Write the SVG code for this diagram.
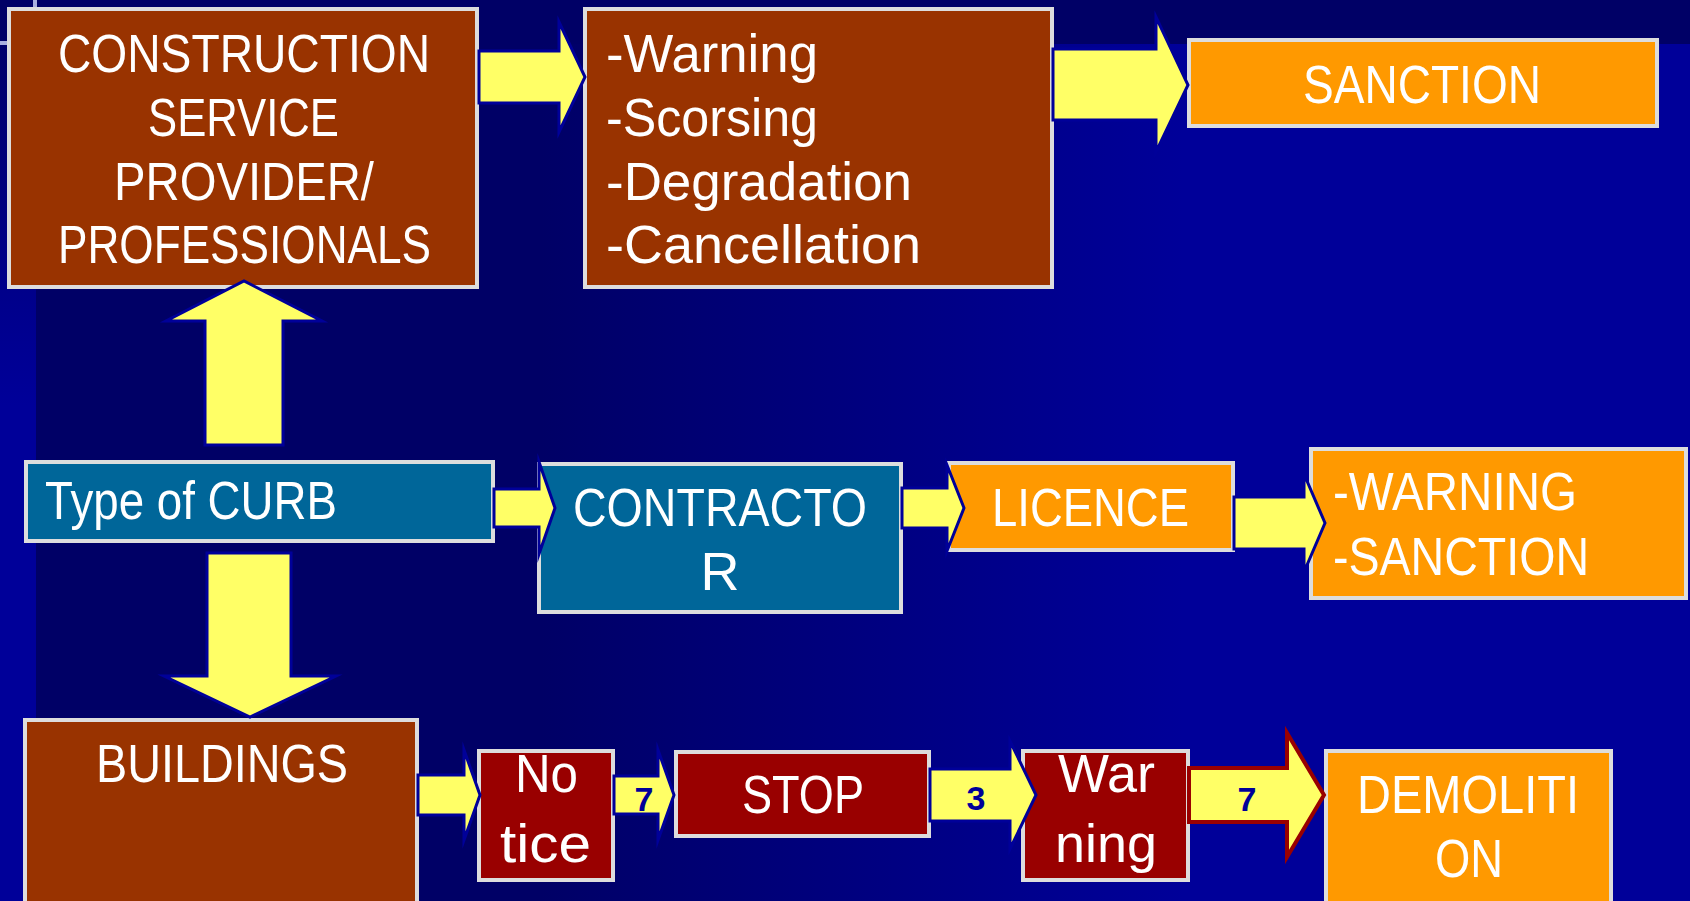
<svg xmlns="http://www.w3.org/2000/svg" width="1690" height="901" viewBox="0 0 1690 901">
<defs>
<linearGradient id="bgMain" x1="0" y1="0" x2="1690" y2="0" gradientUnits="userSpaceOnUse">
<stop offset="0" stop-color="#000066"/>
<stop offset="0.32" stop-color="#000066"/>
<stop offset="0.70" stop-color="#000099"/>
<stop offset="1" stop-color="#000099"/>
</linearGradient>
<linearGradient id="bgLeft" x1="0" y1="0" x2="0" y2="901" gradientUnits="userSpaceOnUse">
<stop offset="0" stop-color="#000066"/>
<stop offset="0.45" stop-color="#000099"/>
<stop offset="1" stop-color="#000099"/>
</linearGradient>
<style>
.box{stroke:#DDDDDD;stroke-width:4}
.brown{fill:#993300}
.teal{fill:#006699}
.orange{fill:#FF9900}
.red{fill:#990000}
.t{font-family:'Liberation Sans Narrow','Arial Narrow','Liberation Sans',Arial,sans-serif;font-size:54px;fill:#FFFFFF}
.arrow{fill:#FFFF66;stroke:#000099;stroke-width:3;stroke-linejoin:miter;stroke-miterlimit:10}
.arrowR{fill:#FFFF66;stroke:#990000;stroke-width:4;stroke-linejoin:miter;stroke-miterlimit:10}
.num{font-family:'Liberation Sans Narrow','Arial Narrow','Liberation Sans',Arial,sans-serif;font-size:34px;font-weight:bold;fill:#000099;text-anchor:middle}
</style>
</defs>
<g id="background">
<rect x="0" y="0" width="1690" height="901" fill="url(#bgMain)"/>
<rect x="0" y="0" width="36" height="901" fill="url(#bgLeft)"/>
<rect x="0" y="0" width="1690" height="44" fill="#000066"/>
<line x1="35" y1="0" x2="35" y2="45" stroke="#AAB0E0" stroke-width="4"/>
<line x1="0" y1="43" x2="37" y2="43" stroke="#AAB0E0" stroke-width="4"/>
</g>
<g id="node-construction">
<rect class="box brown" x="9" y="9" width="468" height="278"/>
<text class="t" x="58" y="72" textLength="372" lengthAdjust="spacingAndGlyphs">CONSTRUCTION</text>
<text class="t" x="148" y="136" textLength="191" lengthAdjust="spacingAndGlyphs">SERVICE</text>
<text class="t" x="114" y="200" textLength="260" lengthAdjust="spacingAndGlyphs">PROVIDER/</text>
<text class="t" x="58" y="263" textLength="373" lengthAdjust="spacingAndGlyphs">PROFESSIONALS</text>
</g>
<g id="node-actions">
<rect class="box brown" x="585" y="9" width="467" height="278"/>
<text class="t" x="606" y="72" textLength="212" lengthAdjust="spacingAndGlyphs">-Warning</text>
<text class="t" x="606" y="136" textLength="212" lengthAdjust="spacingAndGlyphs">-Scorsing</text>
<text class="t" x="606" y="200" textLength="306" lengthAdjust="spacingAndGlyphs">-Degradation</text>
<text class="t" x="606" y="263" textLength="315" lengthAdjust="spacingAndGlyphs">-Cancellation</text>
</g>
<g id="node-sanction">
<rect class="box orange" x="1189" y="40" width="468" height="86"/>
<text class="t" x="1303" y="103" textLength="238" lengthAdjust="spacingAndGlyphs">SANCTION</text>
</g>
<g id="node-curb">
<rect class="box teal" x="26" y="462" width="467" height="79"/>
<text class="t" x="45" y="519" textLength="292" lengthAdjust="spacingAndGlyphs">Type of CURB</text>
</g>
<g id="node-contractor">
<rect class="box teal" x="539" y="464" width="362" height="148"/>
<text class="t" x="573" y="526" textLength="294" lengthAdjust="spacingAndGlyphs">CONTRACTO</text>
<text class="t" x="720" y="590" text-anchor="middle">R</text>
</g>
<g id="node-licence">
<rect class="box orange" x="949" y="463" width="284" height="87"/>
<text class="t" x="992" y="526" textLength="197" lengthAdjust="spacingAndGlyphs">LICENCE</text>
</g>
<g id="node-warning-sanction">
<rect class="box orange" x="1311" y="449" width="375" height="149"/>
<text class="t" x="1333" y="510" textLength="244" lengthAdjust="spacingAndGlyphs">-WARNING</text>
<text class="t" x="1333" y="575" textLength="256" lengthAdjust="spacingAndGlyphs">-SANCTION</text>
</g>
<g id="node-buildings">
<rect class="box brown" x="25" y="720" width="392" height="190"/>
<text class="t" x="96" y="782" textLength="252" lengthAdjust="spacingAndGlyphs">BUILDINGS</text>
</g>
<g id="node-notice">
<rect class="box red" x="479" y="751" width="134" height="129"/>
<text class="t" x="515" y="792" textLength="63" lengthAdjust="spacingAndGlyphs">No</text>
<text class="t" x="500" y="862" textLength="91" lengthAdjust="spacingAndGlyphs">tice</text>
</g>
<g id="node-stop">
<rect class="box red" x="676" y="752" width="253" height="84"/>
<text class="t" x="742" y="813" textLength="122" lengthAdjust="spacingAndGlyphs">STOP</text>
</g>
<g id="node-warning">
<rect class="box red" x="1023" y="751" width="165" height="129"/>
<text class="t" x="1058" y="792" textLength="97" lengthAdjust="spacingAndGlyphs">War</text>
<text class="t" x="1055" y="862" textLength="102" lengthAdjust="spacingAndGlyphs">ning</text>
</g>
<g id="node-demolition">
<rect class="box orange" x="1326" y="751" width="285" height="160"/>
<text class="t" x="1357" y="813" textLength="222" lengthAdjust="spacingAndGlyphs">DEMOLITI</text>
<text class="t" x="1435" y="877" textLength="68" lengthAdjust="spacingAndGlyphs">ON</text>
</g>
<g id="connectors">
<polygon class="arrow" points="479,51 559,51 559,22 585,77 559,132 559,103 479,103"/>
<polygon class="arrow" points="1053,49 1156,49 1156,17 1188,85 1156,152 1156,120 1053,120"/>
<polygon class="arrow" points="205,445 205,321 166,321 244,281 322,321 283,321 283,445"/>
<polygon class="arrow" points="207,553 291,553 291,676 336,676 250,717 164,676 207,676"/>
<polygon class="arrow" points="494,489 539,489 539,462 555,508 539,554 539,527 494,527"/>
<polygon class="arrow" points="902,488 947,488 947,465 964,508 947,551 947,528 902,528"/>
<polygon class="arrow" points="1234,497 1304,497 1304,474 1325,523 1304,572 1304,549 1234,549"/>
<polygon class="arrow" points="418,775 464,775 464,750 480,795 464,840 464,815 418,815"/>
<polygon class="arrow" points="614,776 658,776 658,750 674,795 658,840 658,814 614,814"/>
<polygon class="arrow" points="930,769 1010,769 1010,741 1036,795 1010,849 1010,821 930,821"/>
<polygon class="arrowR" points="1189,768 1287,768 1287,733 1324,795 1287,857 1287,822 1189,822"/>
<text class="num" x="644" y="811">7</text>
<text class="num" x="976" y="810">3</text>
<text class="num" x="1247" y="811">7</text>
</g>
</svg>
